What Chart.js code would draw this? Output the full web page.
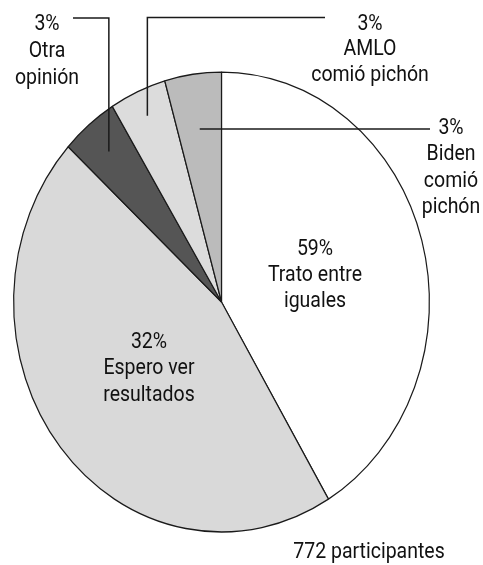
<!DOCTYPE html>
<html>
<head>
<meta charset="utf-8">
<script src="https://cdn.jsdelivr.net/npm/chart.js@4"></script>
<style>
  html, body { margin: 0; padding: 0; background: #ffffff; }
  canvas { display: block; }
</style>
</head>
<body>
<canvas id="c" width="483" height="565"></canvas>
<script>
// ---- data ----
const categories = ['Trato entre iguales', 'Espero ver resultados', 'Otra opinión', 'AMLO comió pichón', 'Biden comió pichón'];
// slice shares as drawn in the reference (degrees measured / 3.6)
const sliceShares = [41.4, 45.4, 4.4, 4.4, 4.4];
// percentages printed on the reference
const shownPercent = ['59%', '32%', '3%', '3%', '3%'];
const labelLines = [
  ['Trato entre', 'iguales'],
  ['Espero ver', 'resultados'],
  ['Otra', 'opinión'],
  ['AMLO', 'comió pichón'],
  ['Biden', 'comió', 'pichón']
];
const footerText = '772 participantes';

// ---- styles ----
const sliceColors = ['#ffffff', '#d9d9d9', '#555555', '#dcdcdc', '#bbbbbb'];
const Y_STRETCH = 1.106;
const TEXT_STRETCH = 1.16;
const CENTER_Y = 302;
const FONT = '19.5px Roboto, "Liberation Sans", sans-serif';
const TEXT_COLOR = '#111111';

// label placement: [centerX, first baseline, line step]
const labelPos = [
  [315, 255, 25.8],
  [149, 347.5, 26.5],
  [47, 29.5, 27],
  [370, 29.5, 25.8],
  [451, 134, 26.3]
];
// leader lines anchored on the slices
const leaders = [
  {i: 2, f: 0.85, lineY: 18, endX: 73},
  {i: 3, f: 0.885, lineY: 17.5, endX: 325},
  {i: 4, f: 0.76, endX: 430}
];

function drawText(ctx, txt, x, y) {
  ctx.save();
  ctx.translate(x, y);
  ctx.scale(1, TEXT_STRETCH);
  ctx.fillText(txt, 0, 0);
  ctx.restore();
}

const ellipsePlugin = {
  id: 'ellipse',
  beforeDatasetsDraw(chart) {
    const a = chart.getDatasetMeta(0).data[0];
    const ctx = chart.ctx;
    ctx.save();
    ctx.translate(a.x, CENTER_Y);
    ctx.scale(1, Y_STRETCH);
    ctx.translate(-a.x, -a.y);
  },
  afterDatasetsDraw(chart) {
    const ctx = chart.ctx;
    ctx.restore();
    const meta = chart.getDatasetMeta(0);

    // leader lines
    ctx.save();
    ctx.strokeStyle = '#1a1a1a';
    ctx.lineWidth = 1.5;
    leaders.forEach(l => {
      const arc = meta.data[l.i];
      const mid = (arc.startAngle + arc.endAngle) / 2;
      const r = arc.outerRadius * l.f;
      const ax = arc.x + Math.cos(mid) * r;
      const ay = CENTER_Y + Math.sin(mid) * r * Y_STRETCH;
      ctx.beginPath();
      ctx.moveTo(ax, ay);
      if (l.lineY !== undefined) {
        ctx.lineTo(ax, l.lineY);
        ctx.lineTo(l.endX, l.lineY);
      } else {
        ctx.lineTo(l.endX, ay);
      }
      ctx.stroke();
    });
    ctx.restore();

    // labels
    ctx.save();
    ctx.font = FONT;
    ctx.fillStyle = TEXT_COLOR;
    ctx.textAlign = 'center';
    ctx.textBaseline = 'alphabetic';
    labelPos.forEach((p, i) => {
      const lines = [shownPercent[i]].concat(labelLines[i]);
      lines.forEach((t, k) => drawText(ctx, t, p[0], p[1] + k * p[2]));
    });
    drawText(ctx, footerText, 369, 558);
    ctx.restore();
  }
};

new Chart(document.getElementById('c'), {
  type: 'pie',
  data: {
    labels: categories,
    datasets: [{
      data: sliceShares,
      backgroundColor: sliceColors,
      borderColor: '#1a1a1a',
      borderWidth: 1.2,
      hoverOffset: 0,
      clip: false
    }]
  },
  options: {
    responsive: false,
    devicePixelRatio: 1,
    animation: false,
    rotation: 0,
    layout: { padding: { left: 13, right: 53, top: 70, bottom: 70 } },
    plugins: {
      legend: { display: false },
      tooltip: { enabled: false }
    },
    events: []
  },
  plugins: [ellipsePlugin]
});
</script>
</body>
</html>
